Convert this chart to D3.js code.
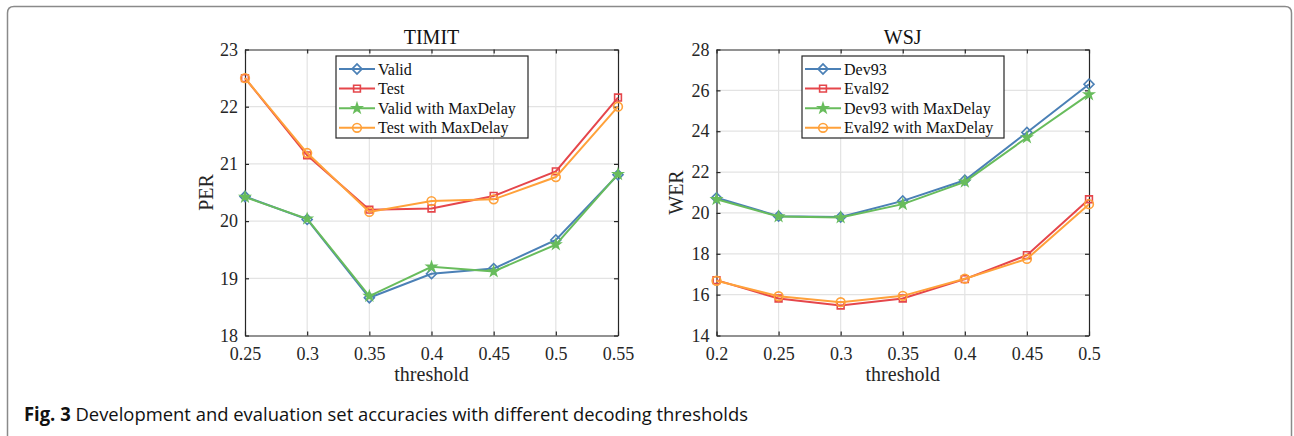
<!DOCTYPE html>
<html>
<head>
<meta charset="utf-8">
<script src="https://cdn.jsdelivr.net/npm/d3@7"></script>
<style>
  body { margin: 0; background: #fff; }
  svg { display: block; }
</style>
</head>
<body>
<div id="chart"></div>
<script>
// dati
const timitX = [0.25, 0.3, 0.35, 0.4, 0.45, 0.5, 0.55];
const timitXLabels = ["0.25", "0.3", "0.35", "0.4", "0.45", "0.5", "0.55"];
const timitValid = [20.43, 20.03, 18.66, 19.08, 19.17, 19.67, 20.81];
const timitTest = [22.5, 21.15, 20.2, 20.22, 20.44, 20.87, 22.16];
const timitValidMD = [20.42, 20.04, 18.69, 19.2, 19.12, 19.59, 20.82];
const timitTestMD = [22.5, 21.19, 20.16, 20.35, 20.38, 20.77, 22.0];
const timitYTicks = [18, 19, 20, 21, 22, 23];

const wsjX = [0.2, 0.25, 0.3, 0.35, 0.4, 0.45, 0.5];
const wsjXLabels = ["0.2", "0.25", "0.3", "0.35", "0.4", "0.45", "0.5"];
const wsjDev = [20.74, 19.84, 19.8, 20.59, 21.6, 23.94, 26.3];
const wsjEval = [16.71, 15.81, 15.47, 15.81, 16.76, 17.93, 20.67];
const wsjDevMD = [20.67, 19.82, 19.78, 20.43, 21.52, 23.69, 25.8];
const wsjEvalMD = [16.68, 15.92, 15.63, 15.94, 16.78, 17.75, 20.43];
const wsjYTicks = [14, 16, 18, 20, 22, 24, 26, 28];

const timitNames = ["Valid", "Test", "Valid with MaxDelay", "Test with MaxDelay"];
const wsjNames = ["Dev93", "Eval92", "Dev93 with MaxDelay", "Eval92 with MaxDelay"];

const width = 1294, height = 436;
const colors = ["#4b80b6", "#e5464b", "#68bc5c", "#ffa13a"];
const serif = "'Liberation Serif', 'Times New Roman', serif";

const svg = d3.select("#chart")
  .append("svg")
  .attr("width", width)
  .attr("height", height);

// cornice esterna (aperta in basso)
svg.append("path")
  .attr("d", "M7.5,440 L7.5,13 Q7.5,6.5 14,6.5 L1285,6.5 Q1291.5,6.5 1291.5,13 L1291.5,440")
  .attr("fill", "none")
  .attr("stroke", "#8a8a8a")
  .attr("stroke-width", 1.5);

// marcatori
const markers = [
  g => g.append("path").attr("d", d3.symbol(d3.symbolSquare, 50)()).attr("transform", "rotate(45)").attr("fill", "none"),
  g => g.append("path").attr("d", d3.symbol(d3.symbolSquare, 46)()).attr("fill", "none"),
  g => g.append("path").attr("d", d3.symbol(d3.symbolStar, 26)()).attr("fill", "currentColor"),
  g => g.append("path").attr("d", d3.symbol(d3.symbolCircle, 60)()).attr("fill", "none")
];

function drawPanel(p) {
  const x = d3.scaleLinear().domain(d3.extent(p.xs)).range([p.left, p.right]);
  const y = d3.scaleLinear().domain(d3.extent(p.yTicks)).range([p.bottom, p.top]);
  const g = svg.append("g");

  // griglia
  g.append("g").selectAll("line").data(p.xs.slice(1, -1)).join("line")
    .attr("x1", d => x(d)).attr("x2", d => x(d))
    .attr("y1", p.top).attr("y2", p.bottom)
    .attr("stroke", "#e3e3e3").attr("stroke-width", 1.2);
  g.append("g").selectAll("line").data(p.yTicks.slice(1, -1)).join("line")
    .attr("x1", p.left).attr("x2", p.right)
    .attr("y1", d => y(d)).attr("y2", d => y(d))
    .attr("stroke", "#e3e3e3").attr("stroke-width", 1.2);

  // assi
  const xAxis = g.append("g").attr("transform", `translate(0,${p.bottom})`)
    .call(d3.axisBottom(x).tickValues(p.xs).tickFormat((d, i) => p.xLabels[i]).tickSizeInner(-4).tickSizeOuter(0).tickPadding(12));
  const xTop = g.append("g").attr("transform", `translate(0,${p.top})`)
    .call(d3.axisTop(x).tickValues(p.xs).tickFormat("").tickSizeInner(-4).tickSizeOuter(0));
  const yAxis = g.append("g").attr("transform", `translate(${p.left},0)`)
    .call(d3.axisLeft(y).tickValues(p.yTicks).tickFormat(d3.format("d")).tickSizeInner(-4).tickSizeOuter(0).tickPadding(7));
  const yRight = g.append("g").attr("transform", `translate(${p.right},0)`)
    .call(d3.axisRight(y).tickValues(p.yTicks).tickFormat("").tickSizeInner(-4).tickSizeOuter(0));
  [xAxis, xTop, yAxis, yRight].forEach(a => {
    a.select(".domain").attr("stroke", "#262626").attr("stroke-width", 1.2);
    a.selectAll(".tick line").attr("stroke", "#262626").attr("stroke-width", 1.2);
    a.selectAll("text").attr("font-family", serif).attr("font-size", 18).attr("fill", "#262626");
  });

  // titolo ed etichette
  g.append("text").attr("x", (p.left + p.right) / 2).attr("y", p.top - 6)
    .attr("text-anchor", "middle").attr("font-family", serif).attr("font-size", 20)
    .attr("fill", "#111").text(p.title);
  g.append("text").attr("x", (p.left + p.right) / 2).attr("y", p.bottom + 45)
    .attr("text-anchor", "middle").attr("font-family", serif).attr("font-size", 20)
    .attr("fill", "#262626").text("threshold");
  g.append("text")
    .attr("transform", `translate(${p.yLabelX},${(p.top + p.bottom) / 2}) rotate(-90)`)
    .attr("text-anchor", "middle").attr("font-family", serif).attr("font-size", 20)
    .attr("fill", "#262626").text(p.yLabel);

  // linee
  const line = d3.line().x((d, i) => x(p.xs[i])).y(d => y(d));
  p.series.forEach((s, k) => {
    const sg = g.append("g").attr("color", colors[k]);
    sg.append("path").datum(s).attr("d", line)
      .attr("fill", "none").attr("stroke", colors[k]).attr("stroke-width", 2);
    s.forEach((v, i) => {
      const m = sg.append("g").attr("transform", `translate(${x(p.xs[i])},${y(v)})`)
        .attr("stroke", colors[k]).attr("stroke-width", 1.6);
      markers[k](m);
    });
  });

  // legenda
  const lg = g.append("g");
  lg.append("rect").attr("x", p.legX).attr("y", 56).attr("width", p.legW).attr("height", 82)
    .attr("fill", "#fff").attr("stroke", "#262626").attr("stroke-width", 1.2);
  p.names.forEach((n, k) => {
    const cy = 69 + k * 19.6;
    const row = lg.append("g").attr("color", colors[k]);
    row.append("line").attr("x1", p.legX + 3).attr("x2", p.legX + 39)
      .attr("y1", cy).attr("y2", cy).attr("stroke", colors[k]).attr("stroke-width", 2);
    const m = row.append("g").attr("transform", `translate(${p.legX + 21},${cy})`)
      .attr("stroke", colors[k]).attr("stroke-width", 1.6);
    markers[k](m);
    lg.append("text").attr("x", p.legX + 42).attr("y", cy + 5.5)
      .attr("font-family", serif).attr("font-size", 16).attr("fill", "#111").text(n);
  });
}

drawPanel({
  title: "TIMIT", yLabel: "PER", xs: timitX, xLabels: timitXLabels, yTicks: timitYTicks,
  series: [timitValid, timitTest, timitValidMD, timitTestMD], names: timitNames,
  left: 245, right: 618, top: 49.5, bottom: 335.5, yLabelX: 213, legX: 336, legW: 192
});
drawPanel({
  title: "WSJ", yLabel: "WER", xs: wsjX, xLabels: wsjXLabels, yTicks: wsjYTicks,
  series: [wsjDev, wsjEval, wsjDevMD, wsjEvalMD], names: wsjNames,
  left: 716.5, right: 1089, top: 49.5, bottom: 335.5, yLabelX: 683, legX: 802, legW: 202
});

// didascalia
const cap = svg.append("text").attr("x", 24).attr("y", 421)
  .attr("font-family", "'Open Sans', 'Noto Sans', sans-serif").attr("font-size", 19)
  .attr("fill", "#111").attr("textLength", 724).attr("lengthAdjust", "spacingAndGlyphs");
cap.append("tspan").attr("font-weight", "bold").text("Fig. 3");
cap.append("tspan").text(" Development and evaluation set accuracies with different decoding thresholds");
</script>
</body>
</html>
